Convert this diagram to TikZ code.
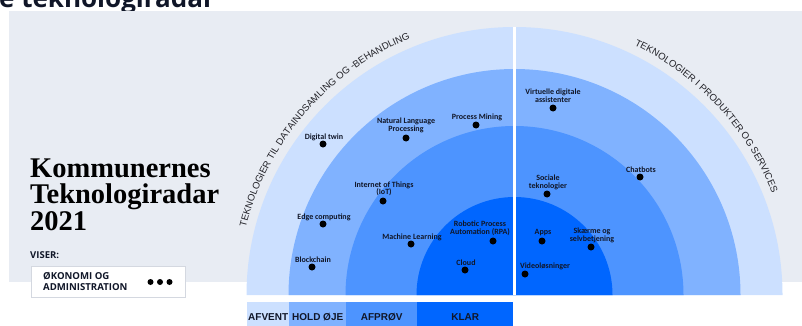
\documentclass[tikz,border=0pt]{standalone}
\usepackage{fontspec}
\setmainfont{Liberation Serif}
\newfontfamily\labelfont{Carlito}
\newfontfamily\arcfont{Liberation Sans}
\newfontfamily\uifont{Open Sans}
\usetikzlibrary{decorations.text,calc}

\definecolor{bggray}{RGB}{232,236,243}
\definecolor{ringA}{RGB}{204,224,255}
\definecolor{ringB}{RGB}{128,178,255}
\definecolor{ringC}{RGB}{77,148,255}
\definecolor{ringD}{RGB}{0,102,255}
\definecolor{lblcol}{RGB}{16,22,40}
\definecolor{arctext}{RGB}{34,34,40}
\definecolor{boxborder}{RGB}{212,216,224}

\tikzset{
  techdot/.style={circle,fill=black,inner sep=0pt,minimum size=7pt},
  techlbl/.style={font=\labelfont\bfseries\fontsize{8}{7.5}\selectfont,text=lblcol,align=center,inner sep=0pt},
  legcell/.style={anchor=south west,inner sep=0pt,minimum height=30pt,
    font=\arcfont\bfseries\fontsize{10}{10}\selectfont,text=lblcol},
  menudot/.style={circle,fill=black,inner sep=0pt,minimum size=6pt},
}

\begin{document}
\begin{tikzpicture}[x=1pt,y=1pt]
\useasboundingbox (0,0) rectangle (802,325);

% page heading, cut by the top edge
\begin{scope}
  \clip (0,314) rectangle (802,325);
  \node[anchor=base west,inner sep=0pt,font=\uifont\bfseries\fontsize{26}{26}\selectfont,text=lblcol]
    (pagehead) at (-1,317.5) {e teknologiradar};
\end{scope}

% panel background
\fill[bggray] (9,43) rectangle (802,314);

% radar rings
\coordinate (C) at (514.5,30);
\fill[ringA] ($(C)+(-268,0)$) arc[start angle=180,end angle=0,radius=268] -- cycle;
\fill[ringB] ($(C)+(-226,0)$) arc[start angle=180,end angle=0,radius=226] -- cycle;
\fill[ringC] ($(C)+(-169,0)$) arc[start angle=180,end angle=0,radius=169] -- cycle;
\fill[ringD] ($(C)+(-98,0)$) arc[start angle=180,end angle=0,radius=98] -- cycle;
\fill[white] (513,30) rectangle (516,298.5);

% sector titles along the outer ring
\path[decorate,decoration={text along path,text align=center,text color=arctext,
  text={|\arcfont\fontsize{9.6}{9.6}\selectfont|TEKNOLOGIER TIL DATAINDSAMLING OG -BEHANDLING}}]
  ($(C)+(175:277)$) arc[start angle=175,end angle=103,radius=277];
\path[decorate,decoration={text along path,text align=center,text color=arctext,
  text={|\arcfont\fontsize{9.6}{9.6}\selectfont|TEKNOLOGIER I PRODUKTER OG SERVICES}}]
  ($(C)+(79:277)$) arc[start angle=79,end angle=7,radius=277];

% technologies: data collection and processing
\node[techdot] (dtwin) at (323,181) {};
\node[techlbl] (dtwinL) at (324,188) {Digital twin};
\node[techdot] (nlp) at (406,187) {};
\node[techlbl] (nlpL) at (406,199.5) {Natural Language\\Processing};
\node[techdot] (pmin) at (476,200) {};
\node[techlbl] (pminL) at (477,208) {Process Mining};
\node[techdot] (iot) at (383,124) {};
\node[techlbl] (iotL) at (384,136) {Internet of Things\\(IoT)};
\node[techdot] (edge) at (323,101) {};
\node[techlbl] (edgeL) at (324,108) {Edge computing};
\node[techdot] (bchain) at (312,58) {};
\node[techlbl] (bchainL) at (313,65) {Blockchain};
\node[techdot] (ml) at (411,81) {};
\node[techlbl] (mlL) at (412,88) {Machine Learning};
\node[techdot] (rpa) at (493,84) {};
\node[techlbl] (rpaL) at (480,96.5) {Robotic Process\\Automation (RPA)};
\node[techdot] (cloud) at (465,55) {};
\node[techlbl] (cloudL) at (466,62) {Cloud};

% technologies: products and services
\node[techdot] (vda) at (553,217) {};
\node[techlbl] (vdaL) at (553,229.5) {Virtuelle digitale\\assistenter};
\node[techdot] (chat) at (640,148) {};
\node[techlbl] (chatL) at (641,155) {Chatbots};
\node[techdot] (soc) at (547,131) {};
\node[techlbl] (socL) at (548,142.5) {Sociale\\teknologier};
\node[techdot] (apps) at (542,84) {};
\node[techlbl] (appsL) at (543,92) {Apps};
\node[techdot] (skaerm) at (591,78) {};
\node[techlbl] (skaermL) at (592,89.5) {Skærme og\\selvbetjening};
\node[techdot] (video) at (525,51) {};
\node[techlbl] (videoL) at (545,59) {Videoløsninger};

% ring legend
\node[legcell,fill=ringA,minimum width=42pt] (afvent) at (247,-7) {AFVENT};
\node[legcell,fill=ringB,minimum width=57pt] (hold) at (289,-7) {HOLD ØJE};
\node[legcell,fill=ringC,minimum width=71pt] (afprov) at (346,-7) {AFPRØV};
\node[legcell,fill=ringD,minimum width=96pt] (klar) at (417,-7) {KLAR};

% title block (anchored on the baseline of its last line)
\node[anchor=base west,inner sep=0pt,align=left,text=black,
  font=\bfseries\fontsize{28.5}{26.5}\selectfont] (title) at (30,95)
  {Kommunernes\\Teknologiradar\\2021};
\node[anchor=base west,inner sep=0pt,text=lblcol,
  font=\uifont\bfseries\fontsize{9.5}{9.5}\selectfont] (viser) at (30,67) {VISER:};
\node[draw=boxborder,fill=white,anchor=south west,minimum width=154pt,minimum height=31pt,
  inner sep=0pt] (viewbox) at (31,28) {};
\node[anchor=west,inner sep=0pt,align=left,text=lblcol,
  font=\uifont\bfseries\fontsize{9.6}{11.5}\selectfont] (viewtxt) at (43,43.5)
  {ØKONOMI OG\\ADMINISTRATION};
\node[menudot] (m1) at (150.5,43) {};
\node[menudot] (m2) at (160,43) {};
\node[menudot] (m3) at (169.5,43) {};
\end{tikzpicture}
\end{document}
